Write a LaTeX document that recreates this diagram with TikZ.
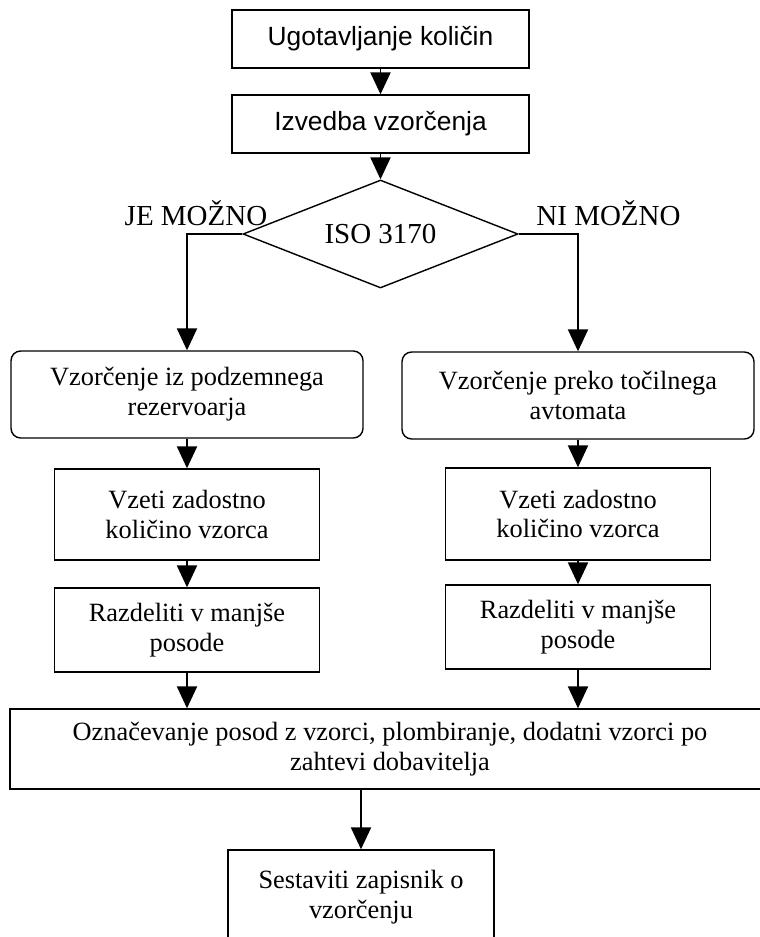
\documentclass[tikz,border=0pt]{standalone}
\usepackage{fontspec}
\setmainfont{Liberation Serif}
\newfontfamily\arialfont{Liberation Sans}
\usetikzlibrary{shapes,arrows.meta,calc}
\tikzset{
    block/.style = {draw, rectangle, 
        minimum width=5.3cm, minimum height=1.75cm, align=center,
        font=\fontsize{15}{17}\selectfont},
    topblock/.style = {block, minimum width=5.94cm, minimum height=1.16cm,
        font=\arialfont\fontsize{15}{17}\selectfont},
    roundblock/.style = {block, rounded corners=5.5pt,
        minimum width=7.04cm, minimum height=1.74cm},
    decision/.style = {draw, diamond, aspect=2.5, inner sep=0pt,
        minimum width=5.5cm, minimum height=2.16cm,
        font=\fontsize{16.5}{18}\selectfont},
    branchlabel/.style = {font=\fontsize{16.5}{18}\selectfont},
    arrow/.style={draw, -{Triangle[length=12.5pt,width=11.5pt]}},
    line/.style={draw}
}

\begin{document}
\begin{tikzpicture}[auto, node distance=2cm, line width=0.8pt]
        \useasboundingbox (0,0) rectangle (15.18,-18.74);
        \node [topblock] at (7.61,-0.78) (kol) {Ugotavljanje količin};
        \node [topblock, below of=kol, node distance=1.7cm] (izv) {Izvedba vzorčenja};
        \draw [arrow] (kol) -- (izv);
        \node [decision, below of=izv, node distance=2.2cm] (iso) {ISO 3170};
        \draw [arrow] (izv) -- (iso);
        % veja: je mozno
        \node [branchlabel] at (3.92,-4.26) (jem) {JE MOŽNO};
        \node [roundblock] at (3.74,-7.89) (podz) {Vzorčenje iz podzemnega\\rezervoarja};
        \draw [arrow] (iso.west) -| (podz.north);
        \node [block, minimum height=1.82cm, below of=podz, node distance=2.4cm] (vzl) {Vzeti zadostno\\količino vzorca};
        \draw [arrow] (podz) -- (vzl);
        \node [block, minimum height=1.68cm, below of=vzl, node distance=2.31cm] (razl) {Razdeliti v manjše\\posode};
        \draw [arrow] (vzl) -- (razl);
        % veja: ni mozno
        \node [branchlabel] at (12.17,-4.26) (nim) {NI MOŽNO};
        \node [roundblock] at (11.56,-7.91) (toc) {Vzorčenje preko točilnega\\avtomata};
        \draw [arrow] (iso.east) -| (toc.north);
        \node [block, minimum height=1.84cm, below of=toc, node distance=2.37cm] (vzd) {Vzeti zadostno\\količino vzorca};
        \draw [arrow] (toc) -- (vzd);
        \node [block, minimum height=1.68cm, below of=vzd, node distance=2.26cm] (razd) {Razdeliti v manjše\\posode};
        \draw [arrow] (vzd) -- (razd);
        % skupni del
        \node [block, minimum width=15.2cm, minimum height=1.6cm] at (7.8,-14.98) (ozn) {Označevanje posod z vzorci, plombiranje, dodatni vzorci po\\zahtevi dobavitelja};
        \draw [arrow] (razl.south) -- (razl.south |- ozn.north);
        \draw [arrow] (razd.south) -- (razd.south |- ozn.north);
        \node [block, minimum width=5.32cm, minimum height=1.88cm] at (7.22,-17.94) (zap) {Sestaviti zapisnik o\\vzorčenju};
        \draw [arrow] (ozn.south -| zap.north) -- (zap.north);
    \end{tikzpicture}
\end{document}
